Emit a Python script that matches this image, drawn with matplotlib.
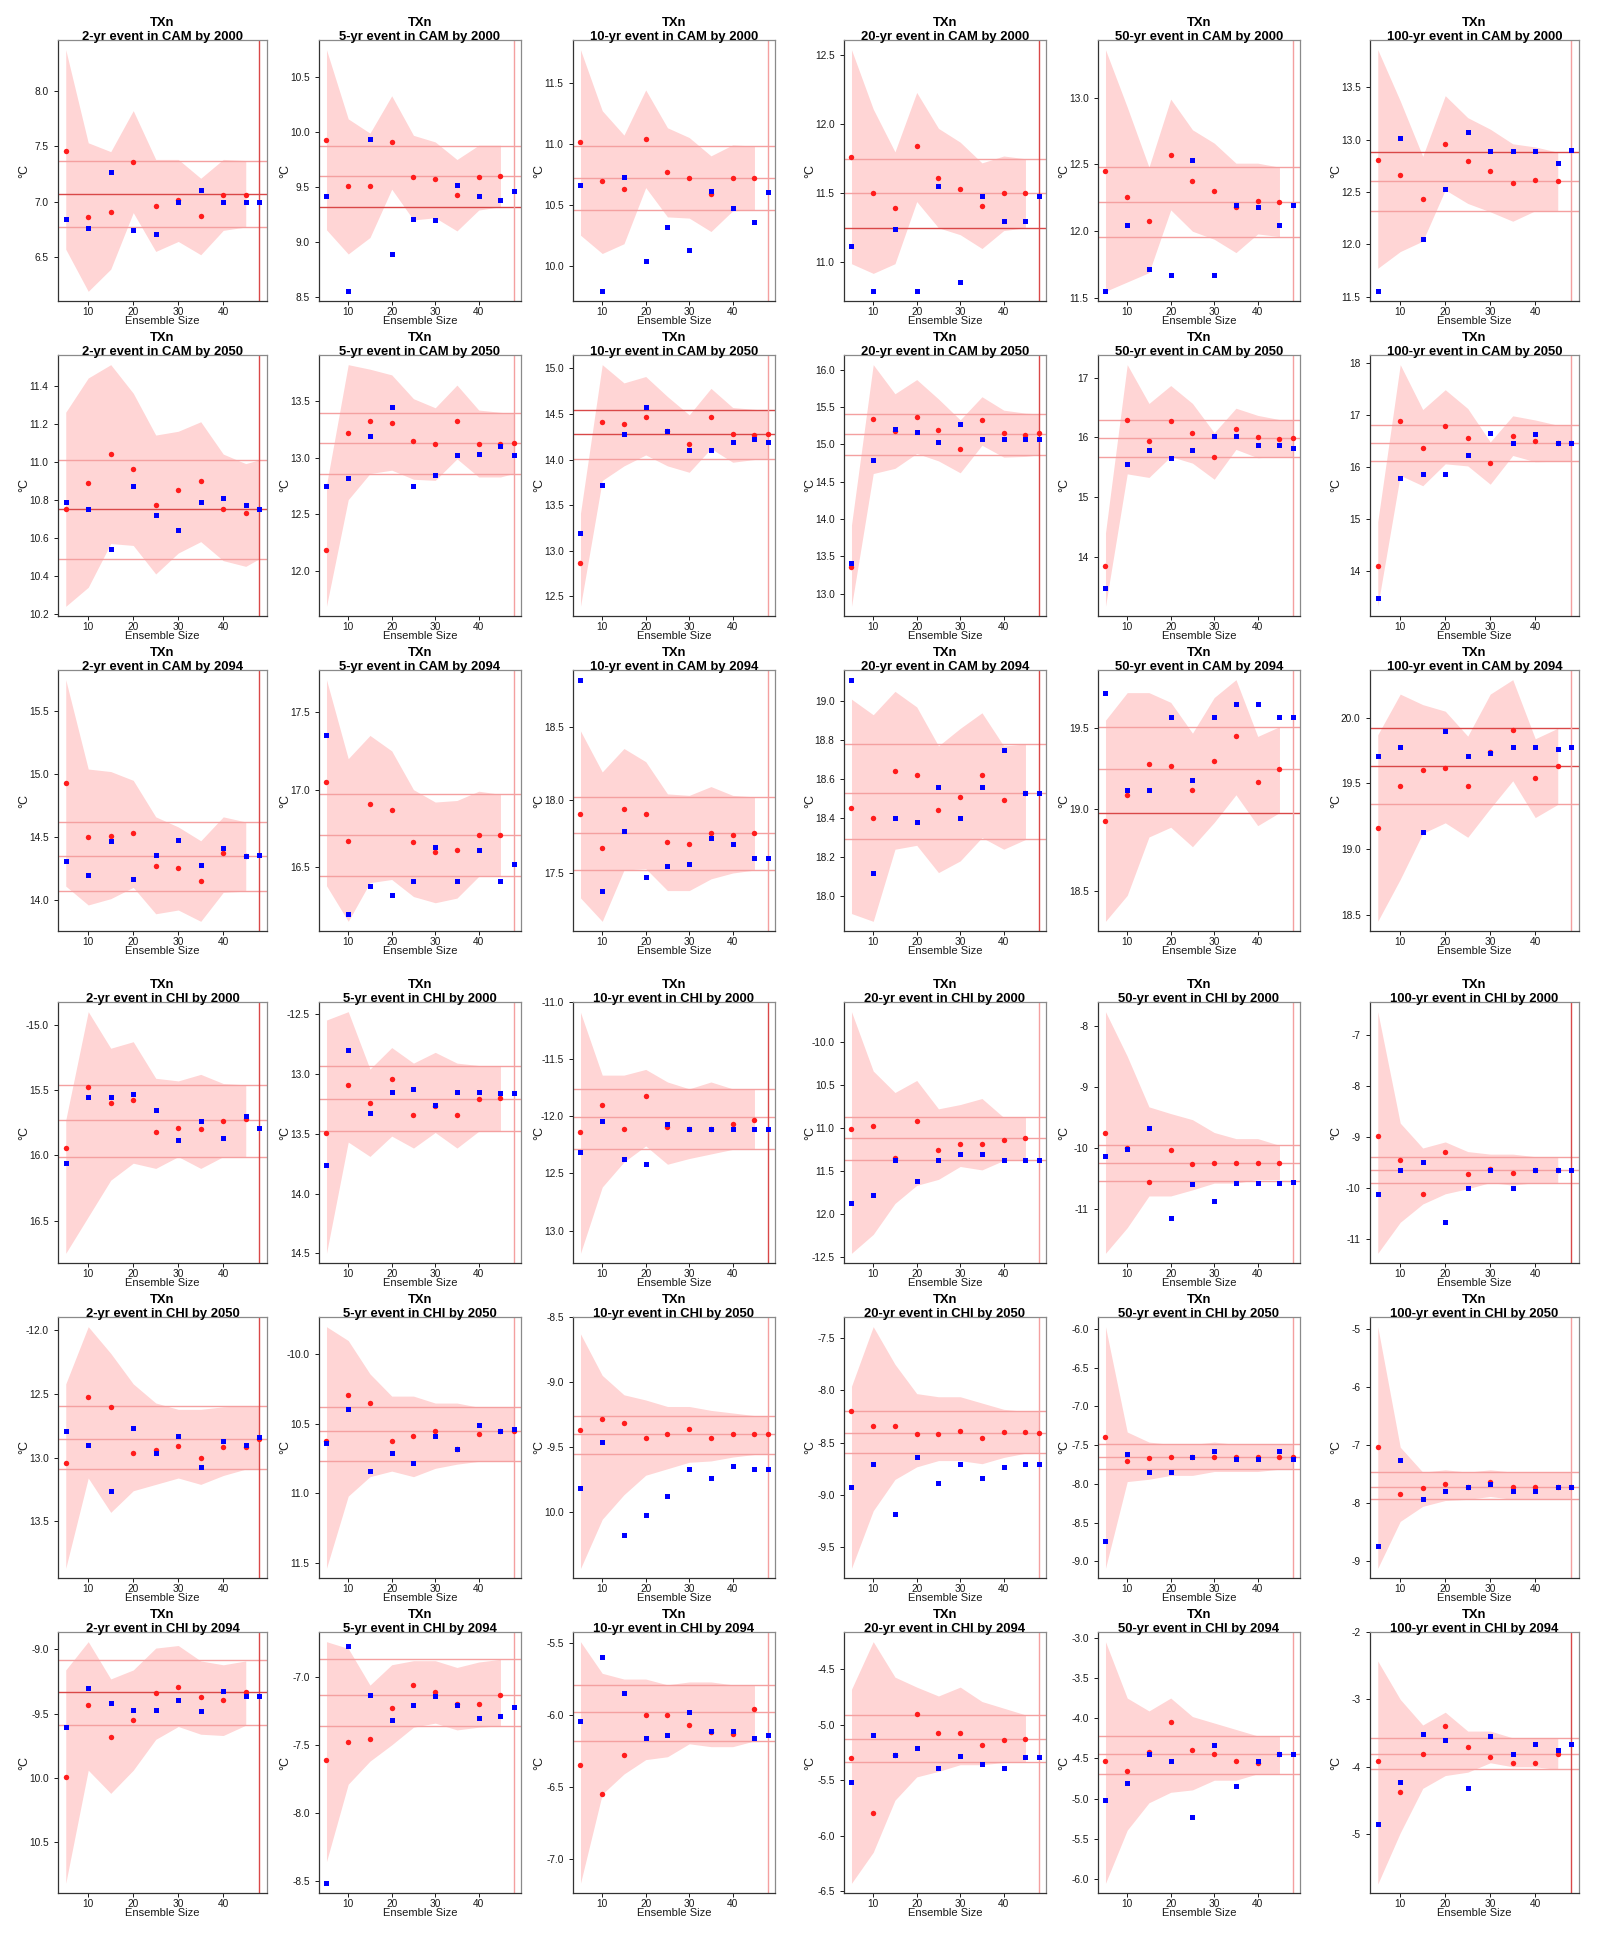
import matplotlib
matplotlib.use("Agg")
import matplotlib.pyplot as plt
import matplotlib.transforms as mtrans

plt.rcParams['font.family'] = ['Liberation Sans', 'DejaVu Sans']

# ---------------- data ----------------
ENSEMBLE = [5, 10, 15, 20, 25, 30, 35, 40, 45, 48]
XTICKS = [10, 20, 30, 40]
PERIODS = ["2-yr", "5-yr", "10-yr", "20-yr", "50-yr", "100-yr"]
ROW_REGION = ["CAM", "CAM", "CAM", "CHI", "CHI", "CHI"]
ROW_YEAR = ["2000", "2050", "2094", "2000", "2050", "2094"]
N = None

# ----- CAM by 2000 -----
RED_CAM_2000 = [
    [7.46, 6.86, 6.91, 7.36, 6.96, 7.01, 6.87, 7.06, 7.06, N],
    [9.93, 9.51, 9.51, 9.91, 9.59, 9.57, 9.43, 9.59, 9.60, N],
    [11.01, 10.69, 10.63, 11.04, 10.77, 10.72, 10.59, 10.72, 10.72, N],
    [11.76, 11.50, 11.39, 11.84, 11.61, 11.53, 11.41, 11.50, 11.50, N],
    [12.45, 12.26, 12.08, 12.57, 12.38, 12.30, 12.18, 12.23, 12.22, N],
    [12.81, 12.66, 12.43, 12.96, 12.80, 12.70, 12.59, 12.61, 12.60, N]]
BLUE_CAM_2000 = [
    [6.84, 6.76, 7.27, 6.74, 6.71, 7.00, 7.10, 7.00, 7.00, 7.00],
    [9.42, 8.55, 9.94, 8.89, 9.21, 9.20, 9.52, 9.42, 9.38, 9.46],
    [10.66, 9.79, 10.73, 10.04, 10.32, 10.13, 10.61, 10.47, 10.36, 10.60],
    [11.12, 10.79, 11.24, 10.79, 11.55, 10.86, 11.48, 11.30, 11.30, 11.48],
    [11.55, 12.05, 11.72, 11.67, 12.53, 11.67, 12.20, 12.18, 12.05, 12.20],
    [11.55, 13.02, 12.05, 12.53, 13.07, 12.89, 12.89, 12.89, 12.78, 12.90]]
UPPER_CAM_2000 = [
    [8.37, 7.53, 7.45, 7.82, 7.38, 7.38, 7.21, 7.38, 7.37, N],
    [10.75, 10.12, 9.99, 10.33, 9.97, 9.91, 9.75, 9.88, 9.88, N],
    [11.77, 11.27, 11.07, 11.44, 11.13, 11.05, 10.90, 10.99, 10.98, N],
    [12.54, 12.11, 11.80, 12.23, 11.97, 11.87, 11.72, 11.77, 11.75, N],
    [13.36, 12.93, 12.48, 12.99, 12.76, 12.66, 12.51, 12.51, 12.48, N],
    [13.86, 13.37, 12.84, 13.42, 13.21, 13.10, 12.96, 12.93, 12.88, N]]
LOWER_CAM_2000 = [
    [6.57, 6.19, 6.39, 6.90, 6.55, 6.64, 6.52, 6.74, 6.77, N],
    [9.11, 8.89, 9.04, 9.48, 9.20, 9.22, 9.10, 9.29, 9.32, N],
    [10.25, 10.10, 10.18, 10.64, 10.40, 10.39, 10.28, 10.45, 10.46, N],
    [10.99, 10.92, 10.99, 11.44, 11.25, 11.20, 11.10, 11.23, 11.25, N],
    [11.55, 11.62, 11.69, 12.16, 12.00, 11.94, 11.84, 11.98, 11.96, N],
    [11.77, 11.93, 12.03, 12.52, 12.39, 12.31, 12.22, 12.32, 12.32, N]]
HLINES_CAM_2000 = [[7.365, 7.067, 6.767], [9.87, 9.60, 9.32], [10.98, 10.72, 10.46],
                   [11.75, 11.50, 11.25], [12.48, 12.22, 11.96], [12.88, 12.60, 12.32]]
YTICKS_CAM_2000 = [[6.5, 7.0, 7.5, 8.0], [8.5, 9.0, 9.5, 10.0, 10.5], [10.0, 10.5, 11.0, 11.5],
                   [11.0, 11.5, 12.0, 12.5], [11.5, 12.0, 12.5, 13.0], [11.5, 12.0, 12.5, 13.0, 13.5]]

# ----- CAM by 2050 -----
RED_CAM_2050 = [
    [10.75, 10.89, 11.04, 10.96, 10.77, 10.85, 10.90, 10.75, 10.73, 10.75],
    [12.19, 13.22, 13.32, 13.31, 13.15, 13.12, 13.32, 13.12, 13.12, 13.13],
    [12.87, 14.41, 14.39, 14.47, 14.31, 14.17, 14.47, 14.28, 14.27, 14.28],
    [13.36, 15.34, 15.18, 15.37, 15.20, 14.94, 15.33, 15.15, 15.13, 15.15],
    [13.84, 16.30, 15.94, 16.27, 16.07, 15.67, 16.15, 16.01, 15.98, 15.99],
    [14.11, 16.88, 16.37, 16.79, 16.56, 16.08, 16.60, 16.50, 16.46, 16.46]]
BLUE_CAM_2050 = [
    [10.79, 10.75, 10.54, 10.87, 10.72, 10.64, 10.79, 10.81, 10.77, 10.75],
    [12.75, 12.82, 13.19, 13.45, 12.75, 12.85, 13.02, 13.03, 13.10, 13.02],
    [13.19, 13.72, 14.28, 14.58, 14.31, 14.10, 14.10, 14.19, 14.22, 14.19],
    [13.41, 14.79, 15.21, 15.17, 15.03, 15.27, 15.07, 15.08, 15.08, 15.08],
    [13.48, 15.56, 15.79, 15.65, 15.79, 16.02, 16.02, 15.87, 15.87, 15.83],
    [13.49, 15.79, 15.87, 15.87, 16.22, 16.65, 16.46, 16.64, 16.46, 16.46]]
UPPER_CAM_2050 = [
    [11.26, 11.44, 11.51, 11.36, 11.14, 11.16, 11.21, 11.04, 10.99, 11.01],
    [12.76, 13.82, 13.78, 13.73, 13.52, 13.44, 13.64, 13.42, 13.40, 13.39],
    [13.41, 15.04, 14.84, 14.91, 14.69, 14.49, 14.78, 14.57, 14.55, 14.54],
    [13.92, 16.07, 15.68, 15.87, 15.61, 15.33, 15.64, 15.46, 15.42, 15.41],
    [14.40, 17.22, 16.57, 16.87, 16.57, 16.08, 16.49, 16.37, 16.30, 16.30],
    [14.95, 17.96, 17.10, 17.48, 17.12, 16.48, 16.98, 16.90, 16.80, 16.81]]
LOWER_CAM_2050 = [
    [10.24, 10.34, 10.57, 10.56, 10.41, 10.52, 10.58, 10.48, 10.45, 10.49],
    [11.69, 12.63, 12.86, 12.89, 12.81, 12.80, 12.99, 12.83, 12.83, 12.86],
    [12.39, 13.77, 13.93, 14.05, 13.93, 13.86, 14.12, 13.97, 14.00, 14.01],
    [12.83, 14.61, 14.68, 14.88, 14.78, 14.62, 14.99, 14.83, 14.84, 14.86],
    [13.17, 15.39, 15.33, 15.68, 15.57, 15.30, 15.80, 15.66, 15.68, 15.68],
    [13.33, 15.84, 15.64, 16.06, 16.02, 15.67, 16.22, 16.10, 16.11, 16.11]]
HLINES_CAM_2050 = [[11.01, 10.75, 10.49], [13.39, 13.13, 12.86], [14.54, 14.28, 14.01],
                   [15.41, 15.14, 14.86], [16.30, 15.99, 15.68], [16.81, 16.46, 16.12]]
YTICKS_CAM_2050 = [[10.2, 10.4, 10.6, 10.8, 11.0, 11.2, 11.4], [12.0, 12.5, 13.0, 13.5],
                   [12.5, 13.0, 13.5, 14.0, 14.5, 15.0], [13.0, 13.5, 14.0, 14.5, 15.0, 15.5, 16.0],
                   [14, 15, 16, 17], [14, 15, 16, 17, 18]]

# ----- CAM by 2094 -----
RED_CAM_2094 = [
    [14.93, 14.50, 14.51, 14.53, 14.27, 14.25, 14.15, 14.37, 14.35, N],
    [17.05, 16.67, 16.91, 16.87, 16.66, 16.60, 16.61, 16.71, 16.71, N],
    [17.90, 17.67, 17.94, 17.90, 17.71, 17.70, 17.77, 17.76, 17.77, N],
    [18.45, 18.40, 18.64, 18.62, 18.44, 18.51, 18.62, 18.49, 18.53, N],
    [18.93, 19.09, 19.28, 19.27, 19.12, 19.30, 19.45, 19.17, 19.25, N],
    [19.16, 19.48, 19.60, 19.62, 19.48, 19.74, 19.91, 19.54, 19.63, N]]
BLUE_CAM_2094 = [
    [14.31, 14.20, 14.47, 14.17, 14.36, 14.48, 14.28, 14.41, 14.35, 14.36],
    [17.35, 16.20, 16.38, 16.32, 16.41, 16.63, 16.41, 16.61, 16.41, 16.52],
    [18.82, 17.38, 17.79, 17.47, 17.55, 17.56, 17.74, 17.70, 17.60, 17.60],
    [19.11, 18.12, 18.40, 18.38, 18.56, 18.40, 18.56, 18.75, 18.53, 18.53],
    [19.72, 19.12, 19.12, 19.57, 19.18, 19.57, 19.65, 19.65, 19.57, 19.57],
    [19.71, 19.78, 19.13, 19.90, 19.71, 19.73, 19.78, 19.78, 19.76, 19.78]]
UPPER_CAM_2094 = [
    [15.75, 15.04, 15.02, 14.95, 14.66, 14.58, 14.47, 14.66, 14.62, N],
    [17.71, 17.20, 17.35, 17.25, 17.00, 16.92, 16.93, 16.99, 16.97, N],
    [18.47, 18.19, 18.35, 18.26, 18.04, 18.03, 18.09, 18.03, 18.02, N],
    [19.01, 18.93, 19.05, 18.97, 18.77, 18.86, 18.94, 18.77, 18.78, N],
    [19.55, 19.72, 19.72, 19.66, 19.47, 19.69, 19.80, 19.45, 19.51, N],
    [19.87, 20.18, 20.10, 20.05, 19.86, 20.18, 20.29, 19.84, 19.92, N]]
LOWER_CAM_2094 = [
    [14.11, 13.96, 14.01, 14.10, 13.89, 13.92, 13.83, 14.06, 14.07, N],
    [16.38, 16.15, 16.40, 16.42, 16.31, 16.27, 16.30, 16.44, 16.44, N],
    [17.33, 17.17, 17.52, 17.53, 17.38, 17.38, 17.46, 17.50, 17.52, N],
    [17.91, 17.87, 18.24, 18.26, 18.12, 18.18, 18.30, 18.24, 18.29, N],
    [18.31, 18.47, 18.83, 18.89, 18.77, 18.92, 19.09, 18.90, 18.98, N],
    [18.45, 18.77, 19.12, 19.20, 19.09, 19.31, 19.52, 19.24, 19.34, N]]
HLINES_CAM_2094 = [[14.62, 14.35, 14.07], [16.97, 16.71, 16.44], [18.02, 17.77, 17.52],
                   [18.78, 18.53, 18.29], [19.51, 19.25, 18.98], [19.92, 19.63, 19.34]]
YTICKS_CAM_2094 = [[14.0, 14.5, 15.0, 15.5], [16.5, 17.0, 17.5], [17.5, 18.0, 18.5],
                   [18.0, 18.2, 18.4, 18.6, 18.8, 19.0], [18.5, 19.0, 19.5], [18.5, 19.0, 19.5, 20.0]]

# ----- CHI by 2000 -----
RED_CHI_2000 = [
    [-15.94, -15.48, -15.60, -15.58, -15.82, -15.79, -15.80, -15.74, -15.72, N],
    [-13.49, -13.09, -13.24, -13.04, -13.34, -13.27, -13.34, -13.21, -13.20, N],
    [-12.14, -11.90, -12.11, -11.82, -12.09, -12.11, -12.11, -12.07, -12.03, N],
    [-11.02, -10.98, -11.35, -10.92, -11.26, -11.19, -11.19, -11.14, -11.12, N],
    [-9.75, -10.00, -10.56, -10.04, -10.27, -10.25, -10.25, -10.25, -10.25, N],
    [-8.98, -9.46, -10.12, -9.29, -9.73, -9.63, -9.71, -9.66, -9.66, N]]
BLUE_CHI_2000 = [
    [-16.06, -15.55, -15.55, -15.53, -15.65, -15.88, -15.74, -15.87, -15.70, -15.79],
    [-13.76, -12.80, -13.33, -13.15, -13.13, -13.26, -13.15, -13.15, -13.16, -13.16],
    [-12.31, -12.04, -12.37, -12.42, -12.07, -12.11, -12.11, -12.11, -12.11, -12.11],
    [-11.88, -11.78, -11.38, -11.62, -11.38, -11.31, -11.31, -11.38, -11.38, -11.38],
    [-10.13, -10.02, -9.67, -11.15, -10.60, -10.88, -10.58, -10.58, -10.58, -10.56],
    [-10.12, -9.66, -9.49, -10.68, -10.00, -9.66, -10.00, -9.66, -9.66, -9.66]]
UPPER_CHI_2000 = [
    [-15.73, -14.90, -15.18, -15.13, -15.41, -15.43, -15.38, -15.45, -15.46, N],
    [-12.55, -12.48, -12.96, -12.78, -12.91, -12.82, -12.91, -12.93, -12.93, N],
    [-11.09, -11.64, -11.64, -11.59, -11.70, -11.76, -11.70, -11.76, -11.76, N],
    [-9.65, -10.34, -10.59, -10.45, -10.78, -10.73, -10.66, -10.88, -10.88, N],
    [-7.77, -8.50, -9.33, -9.44, -9.54, -9.75, -9.85, -9.85, -9.96, N],
    [-6.54, -8.73, -9.22, -9.10, -9.29, -9.34, -9.34, -9.39, -9.39, N]]
LOWER_CHI_2000 = [
    [-16.75, -16.47, -16.19, -16.06, -16.10, -16.01, -16.10, -16.01, -16.01, N],
    [-14.50, -13.57, -13.69, -13.52, -13.62, -13.49, -13.62, -13.48, -13.48, N],
    [-13.20, -12.62, -12.40, -12.26, -12.42, -12.37, -12.33, -12.29, -12.29, N],
    [-12.46, -12.24, -11.88, -11.67, -11.60, -11.45, -11.49, -11.38, -11.38, N],
    [-11.73, -11.31, -10.79, -10.79, -10.69, -10.58, -10.58, -10.52, -10.52, N],
    [-11.29, -10.68, -10.32, -10.12, -10.02, -9.90, -9.95, -9.90, -9.90, N]]
HLINES_CHI_2000 = [[-15.46, -15.73, -16.01], [-12.93, -13.21, -13.48], [-11.76, -12.01, -12.29],
                   [-10.88, -11.12, -11.38], [-9.96, -10.25, -10.54], [-9.39, -9.66, -9.90]]
YTICKS_CHI_2000 = [[-15.0, -15.5, -16.0, -16.5], [-12.5, -13.0, -13.5, -14.0, -14.5],
                   [-11.0, -11.5, -12.0, -12.5, -13.0], [-10.0, -10.5, -11.0, -11.5, -12.0, -12.5],
                   [-8, -9, -10, -11], [-7, -8, -9, -10, -11]]
YLABELS_CHI_2000 = [["-15.0", "15.5", "16.0", "16.5"], ["-12.5", "13.0", "13.5", "14.0", "14.5"],
                    ["-11.0", "-11.5", "-12.0", "12.5", "13.0"],
                    ["-10.0", "10.5", "11.0", "11.5", "12.0", "-12.5"],
                    ["-8", "-9", "-10", "-11"], ["-7", "-8", "-9", "-10", "-11"]]

# ----- CHI by 2050 -----
RED_CHI_2050 = [
    [-13.04, -12.52, -12.60, -12.96, -12.94, -12.91, -13.00, -12.92, -12.92, -12.85],
    [-10.62, -10.29, -10.35, -10.62, -10.59, -10.55, -10.68, -10.57, -10.55, -10.55],
    [-9.37, -9.29, -9.32, -9.43, -9.40, -9.36, -9.43, -9.40, -9.40, -9.40],
    [-8.20, -8.34, -8.34, -8.42, -8.42, -8.39, -8.45, -8.40, -8.40, -8.41],
    [-7.40, -7.70, -7.66, -7.65, -7.65, -7.65, -7.65, -7.65, -7.65, -7.65],
    [-7.04, -7.85, -7.74, -7.68, -7.72, -7.64, -7.72, -7.72, -7.72, -7.72]]
BLUE_CHI_2050 = [
    [-12.79, -12.90, -13.26, -12.77, -12.96, -12.83, -13.07, -12.87, -12.90, -12.84],
    [-10.64, -10.39, -10.84, -10.71, -10.78, -10.59, -10.68, -10.51, -10.55, -10.54],
    [-9.82, -9.46, -10.18, -10.03, -9.88, -9.67, -9.74, -9.65, -9.67, -9.67],
    [-8.92, -8.70, -9.18, -8.64, -8.88, -8.70, -8.84, -8.73, -8.70, -8.70],
    [-8.74, -7.62, -7.84, -7.84, -7.65, -7.57, -7.68, -7.68, -7.57, -7.68],
    [-8.74, -7.26, -7.94, -7.79, -7.72, -7.68, -7.79, -7.79, -7.72, -7.72]]
UPPER_CHI_2050 = [
    [-12.42, -11.97, -12.18, -12.42, -12.57, -12.62, -12.62, -12.60, -12.59, -12.59],
    [-9.80, -9.90, -10.14, -10.30, -10.30, -10.35, -10.35, -10.38, -10.38, -10.38],
    [-8.63, -8.95, -9.10, -9.14, -9.19, -9.19, -9.22, -9.24, -9.26, -9.26],
    [-7.96, -7.39, -7.75, -8.03, -8.06, -8.06, -8.12, -8.18, -8.20, -8.20],
    [-5.97, -7.33, -7.46, -7.49, -7.49, -7.46, -7.49, -7.49, -7.49, -7.49],
    [-4.96, -7.04, -7.47, -7.43, -7.47, -7.43, -7.47, -7.47, -7.47, -7.47]]
LOWER_CHI_2050 = [
    [-13.87, -13.16, -13.43, -13.26, -13.21, -13.16, -13.21, -13.14, -13.09, -13.09],
    [-11.54, -11.02, -10.88, -10.84, -10.88, -10.82, -10.79, -10.77, -10.77, -10.77],
    [-10.44, -10.06, -9.87, -9.72, -9.67, -9.62, -9.61, -9.58, -9.56, -9.56],
    [-9.70, -9.15, -8.85, -8.73, -8.67, -8.67, -8.70, -8.64, -8.60, -8.60],
    [-9.09, -7.97, -7.94, -7.89, -7.89, -7.84, -7.84, -7.84, -7.81, -7.81],
    [-9.13, -8.32, -8.06, -7.96, -7.94, -7.89, -7.94, -7.94, -7.94, -7.94]]
HLINES_CHI_2050 = [[-12.59, -12.85, -13.09], [-10.38, -10.55, -10.77], [-9.26, -9.40, -9.56],
                   [-8.20, -8.41, -8.60], [-7.49, -7.65, -7.81], [-7.47, -7.72, -7.94]]
YTICKS_CHI_2050 = [[-12.0, -12.5, -13.0, -13.5], [-10.0, -10.5, -11.0, -11.5],
                   [-8.5, -9.0, -9.5, -10.0], [-7.5, -8.0, -8.5, -9.0, -9.5],
                   [-6.0, -6.5, -7.0, -7.5, -8.0, -8.5, -9.0], [-5, -6, -7, -8, -9]]
YLABELS_CHI_2050 = [["-12.0", "12.5", "13.0", "13.5"], ["-10.0", "10.5", "11.0", "11.5"],
                    ["-8.5", "-9.0", "-9.5", "10.0"], ["-7.5", "-8.0", "-8.5", "-9.0", "-9.5"],
                    ["-6.0", "-6.5", "-7.0", "-7.5", "-8.0", "-8.5", "-9.0"],
                    ["-5", "-6", "-7", "-8", "-9"]]

# ----- CHI by 2094 -----
RED_CHI_2094 = [
    [-9.99, -9.43, -9.68, -9.55, -9.34, -9.29, -9.37, -9.39, -9.33, N],
    [-7.61, -7.48, -7.46, -7.23, -7.06, -7.11, -7.20, -7.20, -7.13, N],
    [-6.35, -6.55, -6.28, -6.00, -6.00, -6.07, -6.12, -6.13, -5.96, N],
    [-5.30, -5.80, -5.27, -4.90, -5.07, -5.07, -5.18, -5.14, -5.13, N],
    [-4.53, -4.66, -4.42, -4.05, -4.39, -4.45, -4.53, -4.55, -4.45, N],
    [-3.91, -4.38, -3.81, -3.40, -3.70, -3.85, -3.94, -3.94, -3.81, N]]
BLUE_CHI_2094 = [
    [-9.60, -9.30, -9.42, -9.47, -9.47, -9.39, -9.48, -9.32, -9.36, -9.36],
    [-8.52, -6.77, -7.13, -7.32, -7.21, -7.14, -7.21, -7.30, -7.29, -7.22],
    [-6.04, -5.60, -5.85, -6.16, -6.14, -5.98, -6.11, -6.11, -6.16, -6.14],
    [-5.52, -5.09, -5.27, -5.21, -5.39, -5.28, -5.35, -5.39, -5.29, -5.29],
    [-5.02, -4.80, -4.45, -4.53, -5.23, -4.33, -4.84, -4.53, -4.45, -4.45],
    [-4.85, -4.23, -3.51, -3.60, -4.32, -3.55, -3.81, -3.66, -3.75, -3.66]]
UPPER_CHI_2094 = [
    [-9.16, -8.94, -9.23, -9.16, -8.99, -8.97, -9.09, -9.12, -9.09, N],
    [-6.74, -6.79, -7.06, -6.91, -6.88, -6.88, -6.93, -6.89, -6.87, N],
    [-5.49, -5.71, -5.75, -5.75, -5.79, -5.77, -5.77, -5.79, -5.79, N],
    [-4.68, -4.25, -4.57, -4.66, -4.74, -4.66, -4.79, -4.85, -4.91, N],
    [-3.05, -3.75, -3.91, -3.75, -3.98, -4.06, -4.14, -4.22, -4.22, N],
    [-2.43, -3.00, -3.38, -3.19, -3.47, -3.47, -3.57, -3.57, -3.57, N]]
LOWER_CHI_2094 = [
    [-10.82, -9.94, -10.12, -9.94, -9.70, -9.60, -9.66, -9.67, -9.59, N],
    [-8.36, -7.79, -7.62, -7.50, -7.37, -7.34, -7.39, -7.37, -7.36, N],
    [-7.17, -6.55, -6.41, -6.31, -6.29, -6.20, -6.22, -6.22, -6.18, N],
    [-6.43, -6.15, -5.68, -5.47, -5.42, -5.36, -5.36, -5.34, -5.34, N],
    [-6.05, -5.39, -5.05, -4.92, -4.89, -4.77, -4.77, -4.69, -4.69, N],
    [-5.74, -4.98, -4.32, -4.13, -4.08, -3.94, -4.00, -4.00, -4.04, N]]
HLINES_CHI_2094 = [[-9.08, -9.33, -9.59], [-6.87, -7.13, -7.36], [-5.79, -5.98, -6.18],
                   [-4.91, -5.13, -5.34], [-4.22, -4.45, -4.69], [-3.57, -3.81, -4.04]]
YTICKS_CHI_2094 = [[-9.0, -9.5, -10.0, -10.5], [-7.0, -7.5, -8.0, -8.5], [-5.5, -6.0, -6.5, -7.0],
                   [-4.5, -5.0, -5.5, -6.0, -6.5], [-3.0, -3.5, -4.0, -4.5, -5.0, -5.5, -6.0],
                   [-2, -3, -4, -5]]
YLABELS_CHI_2094 = [["-9.0", "-9.5", "10.0", "10.5"], ["-7.0", "-7.5", "-8.0", "-8.5"],
                    ["-5.5", "-6.0", "-6.5", "-7.0"], ["-4.5", "-5.0", "-5.5", "-6.0", "-6.5"],
                    ["-3.0", "-3.5", "-4.0", "-4.5", "-5.0", "-5.5", "-6.0"],
                    ["-2", "-3", "-4", "-5"]]

RED = [RED_CAM_2000, RED_CAM_2050, RED_CAM_2094, RED_CHI_2000, RED_CHI_2050, RED_CHI_2094]
BLUE = [BLUE_CAM_2000, BLUE_CAM_2050, BLUE_CAM_2094, BLUE_CHI_2000, BLUE_CHI_2050, BLUE_CHI_2094]
UPPER = [UPPER_CAM_2000, UPPER_CAM_2050, UPPER_CAM_2094, UPPER_CHI_2000, UPPER_CHI_2050, UPPER_CHI_2094]
LOWER = [LOWER_CAM_2000, LOWER_CAM_2050, LOWER_CAM_2094, LOWER_CHI_2000, LOWER_CHI_2050, LOWER_CHI_2094]
HLINES = [HLINES_CAM_2000, HLINES_CAM_2050, HLINES_CAM_2094, HLINES_CHI_2000, HLINES_CHI_2050, HLINES_CHI_2094]
YTICKS = [YTICKS_CAM_2000, YTICKS_CAM_2050, YTICKS_CAM_2094, YTICKS_CHI_2000, YTICKS_CHI_2050, YTICKS_CHI_2094]
YLABELS = [None, None, None, YLABELS_CHI_2000, YLABELS_CHI_2050, YLABELS_CHI_2094]

# ---------------- styles ----------------
DARK_H = [
    [(0, 1, 0), (0, 0, 1), (0, 0, 0), (0, 0, 1), (0, 0, 0), (1, 0, 0)],
    [(0, 1, 0), (0, 0, 0), (1, 1, 0), (0, 0, 0), (0, 0, 0), (0, 0, 0)],
    [(0, 0, 0), (0, 0, 0), (0, 0, 0), (0, 0, 0), (0, 0, 1), (1, 1, 0)],
    [(0, 0, 0), (0, 0, 0), (0, 0, 0), (0, 0, 0), (0, 0, 0), (0, 0, 0)],
    [(0, 0, 0), (0, 0, 0), (0, 0, 0), (0, 0, 0), (0, 0, 0), (0, 0, 0)],
    [(0, 1, 0), (0, 0, 0), (0, 0, 0), (0, 0, 0), (0, 0, 0), (0, 0, 0)]]
DARK_V = [
    [1, 0, 0, 1, 0, 0],
    [1, 0, 0, 1, 0, 0],
    [1, 0, 0, 1, 0, 0],
    [1, 0, 1, 0, 0, 1],
    [1, 0, 0, 0, 0, 0],
    [1, 0, 0, 0, 0, 1]]

W_PX, H_PX = 1606, 1938
LEFTS = [58, 319, 573, 844, 1098, 1370]
WIDTHS = [209, 202, 202, 202, 202, 209]
TOPS = [40, 355, 670, 1002, 1317, 1632]
AX_H = 261

BAND_C = '#ffd5d5'
LIGHT_C = '#f4a0a0'
DARK_C = '#d94848'
RED_C = '#ff1c1c'
BLUE_C = '#0000ff'
TXT_C = '#1a1a1a'

fig = plt.figure(figsize=(W_PX / 100, H_PX / 100), dpi=100)


def valid(xs, ys):
    pts = [(x, y) for x, y in zip(xs, ys) if y is not None]
    return [p[0] for p in pts], [p[1] for p in pts]


for r in range(6):
    for c in range(6):
        left, width, top = LEFTS[c], WIDTHS[c], TOPS[r]
        ax = fig.add_axes([left / W_PX, 1 - (top + AX_H) / H_PX, width / W_PX, AX_H / H_PX])

        up, lo = UPPER[r][c], LOWER[r][c]
        red, blue = RED[r][c], BLUE[r][c]
        bx, bu = valid(ENSEMBLE, up)
        _, bl = valid(ENSEMBLE, lo)
        ax.fill_between(bx, bl, bu, color=BAND_C, lw=0, zorder=1)

        for k, yv in enumerate(HLINES[r][c]):
            col = DARK_C if DARK_H[r][c][k] else LIGHT_C
            ax.axhline(yv, color=col, lw=1.0, zorder=2)
        ax.axvline(48, color=DARK_C if DARK_V[r][c] else LIGHT_C, lw=1.0, zorder=2)

        rx, ry = valid(ENSEMBLE, red)
        ax.plot(rx, ry, 'o', color=RED_C, ms=3.9, mew=0, zorder=3)
        qx, qy = valid(ENSEMBLE, blue)
        ax.plot(qx, qy, 's', color=BLUE_C, ms=3.6, mew=0, zorder=4)

        allv = [v for arr in (up, lo, red, blue) for v in arr if v is not None]
        ymin, ymax = min(allv), max(allv)
        pad = 0.04 * (ymax - ymin)
        ax.set_ylim(ymin - pad, ymax + pad)
        xpad = 0.04 * (max(ENSEMBLE) - min(ENSEMBLE))
        ax.set_xlim(min(ENSEMBLE) - xpad, max(ENSEMBLE) + xpad)

        ax.set_xticks(XTICKS)
        ticks = YTICKS[r][c]
        if YLABELS[r] is not None:
            labels = YLABELS[r][c]
        else:
            labels = [("%d" % t) if isinstance(t, int) else ("%.1f" % t) for t in ticks]
        ax.set_yticks(ticks, labels)

        ax.tick_params(axis='both', labelsize=7.3, length=3.2, width=0.7, colors=TXT_C)
        ax.tick_params(axis='x', pad=0.8)
        ax.tick_params(axis='y', pad=3.6)
        for s in ('left', 'bottom'):
            ax.spines[s].set_color('#333333')
        for s in ('top', 'right'):
            ax.spines[s].set_color('#8a8a8a')
        for s in ax.spines.values():
            s.set_linewidth(0.9)

        ax.set_xlabel("Ensemble Size", fontsize=8.0, color=TXT_C)
        ax.xaxis.set_label_coords(0.5, -0.056)
        ax.set_ylabel("°C", fontsize=9.0, color=TXT_C)
        ax.yaxis.set_label_coords(-27.5 / width, 0.5)

        ttl2 = f"{PERIODS[c]} event in {ROW_REGION[r]} by {ROW_YEAR[r]}"
        ax.text(0.5, 1.0, ttl2, transform=ax.transAxes, ha='center', va='baseline',
                fontsize=9.4, fontweight='bold', color='black', clip_on=False)
        tr1 = mtrans.offset_copy(ax.transAxes, fig=fig, x=0, y=13.7 * 72 / 100, units='points')
        ax.text(0.5, 1.0, "TXn", transform=tr1, ha='center', va='baseline',
                fontsize=9.4, fontweight='bold', color='black', clip_on=False)

fig.savefig("out.png", dpi=100, facecolor='white')
